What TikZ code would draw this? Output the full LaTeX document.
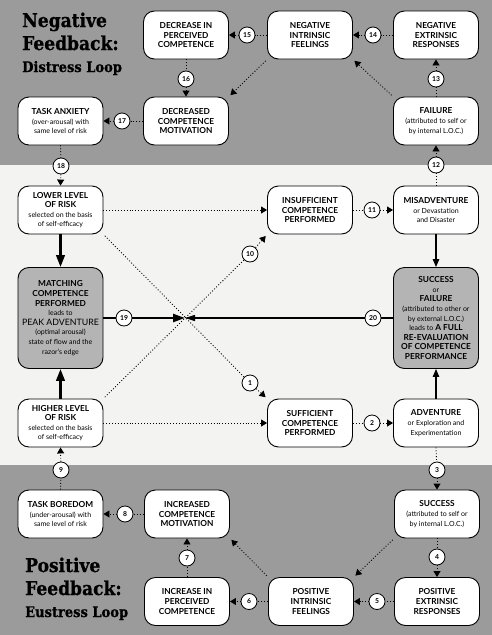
\documentclass[tikz,border=0pt]{standalone}
\usepackage{fontspec}
\setmainfont{Lato}
\newfontfamily\titlefont[FakeStretch=0.9,BoldFeatures={FakeBold=0.8}]{DejaVu Serif}
\usetikzlibrary{arrows.meta,calc}
\definecolor{bandgray}{RGB}{155,155,155}
\definecolor{midwhite}{RGB}{243,243,241}
\definecolor{shadegray}{RGB}{180,180,180}
\newcommand\smtxt{\fontsize{7}{9.6}\selectfont\mdseries}
\newcommand\bigtxt{\fontsize{8.8}{10}\selectfont\mdseries}
\tikzset{
  box/.style={draw=black, line width=0.9pt, rounded corners=11pt, fill=white,
    minimum width=85pt, minimum height=48pt, align=center, inner sep=1pt,
    font=\fontsize{8.3}{9.6}\selectfont\bfseries},
  shadebox/.style={box, fill=shadegray, minimum height=101pt},
  num/.style={circle, draw=black, line width=0.8pt, fill=white, minimum size=16pt,
    inner sep=0pt, font=\fontsize{6.8}{7}\selectfont\bfseries},
  dotline/.style={dotted, line width=0.9pt},
  arr/.style={dotted, line width=0.9pt, -{Triangle[length=6pt,width=7pt]}},
  solidarr/.style={line width=1.1pt, -{Triangle[length=8pt,width=6.5pt]}},
  bigarr/.style={line width=2.4pt, -{Triangle[length=12pt,width=8.5pt]}},
  titlebig/.style={anchor=base west, inner sep=0pt, font=\titlefont\bfseries\fontsize{19}{20}\selectfont},
  titlesmall/.style={anchor=base west, inner sep=0pt, font=\titlefont\bfseries\fontsize{14.5}{15}\selectfont}
}
\begin{document}
\begin{tikzpicture}[x=1pt,y=-1pt]
\useasboundingbox (0,0) rectangle (492,635);
% bands
\fill[bandgray] (0,0) rectangle (492,165);
\fill[midwhite] (0,165) rectangle (492,465);
\fill[bandgray] (0,465) rectangle (492,635);

% titles
\node[titlebig] (tn1) at (22,27) {Negative};
\node[titlebig] (tn2) at (22,50) {Feedback:};
\node[titlesmall] (tn3) at (22,72) {Distress Loop};
\node[titlebig] (tp1) at (25,572) {Positive};
\node[titlebig] (tp2) at (25,595) {Feedback:};
\node[titlesmall] (tp3) at (25,617) {Eustress Loop};

% boxes top band
\node[box] (dpc) at (186,35) {DECREASE IN\\PERCEIVED\\COMPETENCE};
\node[box] (nif) at (310,35) {NEGATIVE\\INTRINSIC\\FEELINGS};
\node[box] (ner) at (436,35) {NEGATIVE\\EXTRINSIC\\RESPONSES};
\node[box] (ta) at (60.5,121) {TASK ANXIETY\\\smtxt (over-arousal) with\\\smtxt same level of risk};
\node[box] (dcm) at (186,121) {DECREASED\\COMPETENCE\\MOTIVATION};
\node[box] (fail) at (436,121) {FAILURE\\\smtxt (attributed to self or\\\smtxt by internal L.O.C.)};

% boxes middle band
\node[box] (llr) at (60.5,210) {LOWER LEVEL\\OF RISK\\\smtxt selected on the basis\\\smtxt of self-efficacy};
\node[box] (ins) at (310,210) {INSUFFICIENT\\COMPETENCE\\PERFORMED};
\node[box] (mis) at (436,210) {MISADVENTURE\\\smtxt or Devastation\\\smtxt and Disaster};
\node[shadebox] (match) at (60.5,318) {MATCHING\\COMPETENCE\\PERFORMED\\\smtxt leads to\\\bigtxt PEAK ADVENTURE\\\smtxt (optimal arousal)\\\smtxt state of flow and the\\\smtxt razor's edge};
\node[shadebox] (sf) at (436,318) {SUCCESS\\\smtxt or\\FAILURE\\\smtxt (attributed to other or\\\smtxt by external L.O.C.)\\{\smtxt leads to} A FULL\\RE-EVALUATION\\OF COMPETENCE\\PERFORMANCE};
\node[box] (hlr) at (60.5,423) {HIGHER LEVEL\\OF RISK\\\smtxt selected on the basis\\\smtxt of self-efficacy};
\node[box] (suf) at (310,423) {SUFFICIENT\\COMPETENCE\\PERFORMED};
\node[box] (adv) at (436,423) {ADVENTURE\\\smtxt or Exploration and\\\smtxt Experimentation};

% boxes bottom band
\node[box] (tb) at (60.5,514) {TASK BOREDOM\\\smtxt (under-arousal) with\\\smtxt same level of risk};
\node[box] (icm) at (187,514) {INCREASED\\COMPETENCE\\MOTIVATION};
\node[box] (succ) at (437,514) {SUCCESS\\\smtxt (attributed to self or\\\smtxt by internal L.O.C.)};
\node[box] (ipc) at (187,601.5) {INCREASE IN\\PERCEIVED\\COMPETENCE};
\node[box] (pif) at (311,601.5) {POSITIVE\\INTRINSIC\\FEELINGS};
\node[box] (per) at (437,601.5) {POSITIVE\\EXTRINSIC\\RESPONSES};

% crossing point
\coordinate (X) at (185,318);

% numbered circles
\node[num] (c1) at (250,383) {1};
\node[num] (c2) at (372,423) {2};
\node[num] (c3) at (437,470) {3};
\node[num] (c4) at (437,557) {4};
\node[num] (c5) at (377,601.5) {5};
\node[num] (c6) at (249,601.5) {6};
\node[num] (c7) at (187,558) {7};
\node[num] (c8) at (125,514) {8};
\node[num] (c9) at (61,470) {9};
\node[num] (c10) at (250,254) {10};
\node[num] (c11) at (372,210) {11};
\node[num] (c12) at (436,165) {12};
\node[num] (c13) at (436,79) {13};
\node[num] (c14) at (373,35) {14};
\node[num] (c15) at (247,35) {15};
\node[num] (c16) at (186,79) {16};
\node[num] (c17) at (122,121) {17};
\node[num] (c18) at (61,166) {18};
\node[num] (c19) at (124,318) {19};
\node[num] (c20) at (373,318) {20};

% distress loop connectors
\draw[dotline] (mis.north) -- (c12);
\draw[arr] (c12) -- (fail.south);
\draw[dotline] (fail.north) -- (c13);
\draw[arr] (c13) -- (ner.south);
\draw[dotline] (ner.west) -- (c14);
\draw[arr] (c14) -- (nif.east);
\draw[arr, shorten <=2pt, shorten >=2pt] (fail.north west) -- (nif.south east);
\draw[dotline] (nif.west) -- (c15);
\draw[arr] (c15) -- (dpc.east);
\draw[arr, shorten <=2pt, shorten >=2pt] (nif.south west) -- (dcm.north east);
\draw[dotline] (dpc.south) -- (c16);
\draw[arr] (c16) -- (dcm.north);
\draw[dotline] (dcm.west) -- (c17);
\draw[arr] (c17) -- (ta.east);
\draw[dotline] (ta.south) -- (c18);
\draw[arr] (c18) -- (llr.north);

% middle connectors
\draw[arr] (llr.east) -- (ins.west);
\draw[arr] (hlr.east) -- (suf.west);
\draw[dotline, shorten <=2pt] (llr.south east) -- (c1);
\draw[arr, shorten >=2pt] (c1) -- (suf.north west);
\draw[dotline, shorten <=2pt] (hlr.north east) -- (c10);
\draw[arr, shorten >=2pt] (c10) -- (ins.south west);
\draw[dotline] (ins.east) -- (c11);
\draw[arr] (c11) -- (mis.west);
\draw[dotline] (suf.east) -- (c2);
\draw[arr] (c2) -- (adv.west);
\draw[bigarr] (llr.south) -- (match.north);
\draw[bigarr] (hlr.north) -- (match.south);
\draw[line width=2.4pt] (match.east) -- (c19);
\draw[line width=2.4pt, -{Triangle[length=12pt,width=8pt]}] (c19) -- (X);
\draw[line width=1.1pt] (sf.west) -- (c20);
\draw[line width=1.1pt, -{Triangle[length=10pt,width=6pt]}] (c20) -- (X);
\draw[solidarr] (mis.south) -- (sf.north);
\draw[solidarr] (adv.north) -- (sf.south);

% eustress loop connectors
\draw[dotline] (adv.south) -- (c3);
\draw[arr] (c3) -- (succ.north);
\draw[dotline] (succ.south) -- (c4);
\draw[arr] (c4) -- (per.north);
\draw[dotline] (per.west) -- (c5);
\draw[arr] (c5) -- (pif.east);
\draw[arr, shorten <=2pt, shorten >=2pt] (succ.south west) -- (pif.north east);
\draw[dotline] (pif.west) -- (c6);
\draw[arr] (c6) -- (ipc.east);
\draw[arr, shorten <=2pt, shorten >=2pt] (pif.north west) -- (icm.south east);
\draw[dotline] (ipc.north) -- (c7);
\draw[arr] (c7) -- (icm.south);
\draw[dotline] (icm.west) -- (c8);
\draw[arr] (c8) -- (tb.east);
\draw[dotline] (tb.north) -- (c9);
\draw[arr] (c9) -- (hlr.south);
\end{tikzpicture}
\end{document}
